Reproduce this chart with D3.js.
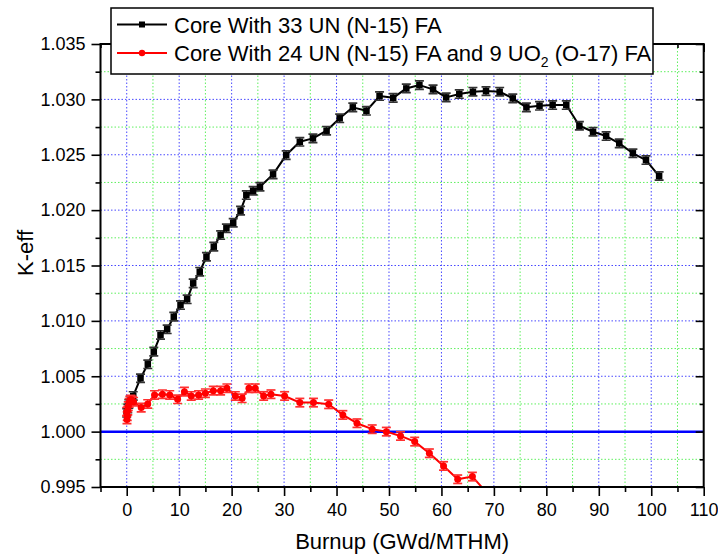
<!DOCTYPE html>
<html><head><meta charset="utf-8">
<script src="https://cdn.jsdelivr.net/npm/d3@7"></script>
<style>
body{margin:0;background:#fff}
svg{display:block}
text{font-family:"Liberation Sans",Arial,Helvetica,sans-serif;fill:#000}
</style>
</head><body>
<svg id="chart" width="718" height="554"></svg>
<script>
// ---------------- DATA ----------------
const seriesNames = ["Core With 33 UN (N-15) FA", "Core With 24 UN (N-15) FA and 9 UO", "2", " (O-17) FA"];
const burnupBlack = [0, 0.2, 0.4, 0.7, 1.24, 2.63, 4.02, 5.16, 6.44, 7.71, 8.97, 10.25, 11.52, 12.67, 13.92,
  15.2, 16.6, 17.9, 19.0, 20.3, 21.7, 22.8, 24.1, 25.4, 27.9, 30.4, 33.0, 35.5, 38.1, 40.6, 43.1, 45.7,
  48.2, 50.8, 53.3, 55.8, 58.4, 60.9, 63.4, 66.0, 68.5, 71.1, 73.6, 76.2, 78.7, 81.2, 83.8, 86.3, 88.9,
  91.4, 93.9, 96.5, 99.0, 101.5];
const keffBlack = [1.0017, 1.0021, 1.0025, 1.0028, 1.00322, 1.00482, 1.00608, 1.00722, 1.00873, 1.00924,
  1.01038, 1.01143, 1.01195, 1.01339, 1.01444, 1.01579, 1.01670, 1.01775, 1.01836, 1.01886, 1.01995,
  1.02136, 1.02175, 1.02211, 1.02323, 1.02497, 1.02617, 1.02648, 1.02717, 1.02829, 1.02928, 1.02897,
  1.03030, 1.03014, 1.03099, 1.03129, 1.03090, 1.03018, 1.03048, 1.03069, 1.03075, 1.03069, 1.03009,
  1.02928, 1.02942, 1.02949, 1.02949, 1.02762, 1.02708, 1.02669, 1.02603, 1.02513, 1.02452, 1.02308];
const burnupRed = [0, 0.05, 0.1, 0.2, 0.3, 0.45, 0.6, 0.8, 1.0, 1.3, 2.76, 4.0, 5.3, 6.8, 8.2, 9.7, 11.0,
  12.3, 13.7, 15.0, 16.5, 17.9, 19.1, 20.7, 22.0, 23.3, 24.5, 26.1, 27.5, 30.1, 33.0, 35.6, 38.5, 41.2,
  43.9, 46.8, 49.5, 52.2, 54.9, 57.7, 60.4, 63.1, 65.9, 68.6];
const keffRed = [1.0018, 1.0011, 1.0014, 1.0019, 1.0023, 1.0026, 1.0028, 1.0029, 1.0028, 1.0027, 1.00217,
  1.00250, 1.00331, 1.00338, 1.00331, 1.00292, 1.00361, 1.00322, 1.00331, 1.00347, 1.00370, 1.00370,
  1.00392, 1.00322, 1.00301, 1.00392, 1.00392, 1.00322, 1.00338, 1.00322, 1.00262, 1.00262, 1.00247,
  1.00151, 1.00076, 1.00022, 1.00000, 0.99961, 0.99910, 0.99805, 0.99690, 0.99570, 0.99594, 0.99450];
const errBlack = 0.00038;
const errRed = 0.00038;
const referenceK = 1.000;
const xMajorTicks = [0, 10, 20, 30, 40, 50, 60, 70, 80, 90, 100, 110];
const xMinorTicks = [-5, 5, 15, 25, 35, 45, 55, 65, 75, 85, 95, 105];
const yMajorTicks = [0.995, 1.000, 1.005, 1.010, 1.015, 1.020, 1.025, 1.030, 1.035];
const yMinorTicks = [0.9975, 1.0025, 1.0075, 1.0125, 1.0175, 1.0225, 1.0275, 1.0325];
const xTitle = "Burnup (GWd/MTHM)";
const yTitle = "K-eff";

// ---------------- CHART ----------------
const svg = d3.select("#chart");
const L = 100.5, R = 703.7, T = 44, B = 487;
const x = d3.scaleLinear().domain([-5, 110]).range([L, R]);
const y = d3.scaleLinear().domain([0.995, 1.035]).range([B, T]);

// grid
const grid = svg.append("g");
grid.selectAll(".gxm").data(xMinorTicks.filter(d => d > -5)).join("line")
  .attr("x1", d => x(d)).attr("x2", d => x(d)).attr("y1", T).attr("y2", B)
  .attr("stroke", "#5ef05e").attr("stroke-width", 1).attr("stroke-dasharray", "1.5,2");
grid.selectAll(".gym").data(yMinorTicks).join("line")
  .attr("x1", L).attr("x2", R).attr("y1", d => y(d)).attr("y2", d => y(d))
  .attr("stroke", "#5ef05e").attr("stroke-width", 1).attr("stroke-dasharray", "1.5,2");
grid.selectAll(".gxM").data(xMajorTicks.filter(d => d < 110)).join("line")
  .attr("x1", d => x(d)).attr("x2", d => x(d)).attr("y1", T).attr("y2", B)
  .attr("stroke", "#4848ff").attr("stroke-width", 1).attr("stroke-dasharray", "1.5,2");
grid.selectAll(".gyM").data(yMajorTicks.filter(d => d > 0.995 && d < 1.035)).join("line")
  .attr("x1", L).attr("x2", R).attr("y1", d => y(d)).attr("y2", d => y(d))
  .attr("stroke", "#4848ff").attr("stroke-width", 1).attr("stroke-dasharray", "1.5,2");

// reference line
svg.append("line").attr("x1", L).attr("x2", R).attr("y1", y(referenceK)).attr("y2", y(referenceK))
  .attr("stroke", "#0000ff").attr("stroke-width", 2.5);

// clip
svg.append("clipPath").attr("id", "clip").append("rect")
  .attr("x", L).attr("y", T).attr("width", R - L).attr("height", B - T);

const dataG = svg.append("g").attr("clip-path", "url(#clip)");
const line = d3.line().x(d => x(d[0])).y(d => y(d[1]));

function drawSeries(xs, ys, err, color, capColor, marker) {
  const pts = xs.map((d, i) => [d, ys[i]]);
  const g = dataG.append("g");
  g.append("path").datum(pts).attr("d", line).attr("fill", "none")
    .attr("stroke", color).attr("stroke-width", 2).attr("stroke-linejoin", "round");
  const eb = g.selectAll(".eb").data(pts).join("g");
  eb.append("line").attr("x1", d => x(d[0])).attr("x2", d => x(d[0]))
    .attr("y1", d => y(d[1] - err)).attr("y2", d => y(d[1] + err)).attr("stroke", capColor).attr("stroke-width", 1.5);
  eb.append("line").attr("x1", d => x(d[0]) - 4.5).attr("x2", d => x(d[0]) + 4.5)
    .attr("y1", d => y(d[1] + err)).attr("y2", d => y(d[1] + err)).attr("stroke", capColor).attr("stroke-width", 1.7);
  eb.append("line").attr("x1", d => x(d[0]) - 4.5).attr("x2", d => x(d[0]) + 4.5)
    .attr("y1", d => y(d[1] - err)).attr("y2", d => y(d[1] - err)).attr("stroke", capColor).attr("stroke-width", 1.7);
  if (marker === "square") {
    g.selectAll(".mk").data(pts).join("rect")
      .attr("x", d => x(d[0]) - 3.25).attr("y", d => y(d[1]) - 3.25).attr("width", 6.5).attr("height", 6.5).attr("fill", color);
  } else {
    g.selectAll(".mk").data(pts).join("circle")
      .attr("cx", d => x(d[0])).attr("cy", d => y(d[1])).attr("r", 3.5).attr("fill", color);
  }
}
drawSeries(burnupBlack, keffBlack, errBlack, "#000", "#333", "square");
drawSeries(burnupRed, keffRed, errRed, "#ff0000", "#ff3030", "circle");

// axes
const fs = "18px";
svg.append("g").attr("transform", `translate(${L},0)`)
  .call(d3.axisLeft(y).tickValues(yMajorTicks).tickSize(9).tickSizeOuter(0).tickPadding(6).tickFormat(d3.format(".3f")));
svg.append("g").attr("transform", `translate(${L},0)`)
  .call(d3.axisLeft(y).tickValues(yMinorTicks).tickSize(5).tickSizeOuter(0).tickFormat(""));
svg.append("g").attr("transform", `translate(0,${B})`)
  .call(d3.axisBottom(x).tickValues(xMajorTicks).tickSize(9).tickSizeOuter(0).tickPadding(7).tickFormat(d3.format("d")));
svg.append("g").attr("transform", `translate(0,${B})`)
  .call(d3.axisBottom(x).tickValues(xMinorTicks).tickSize(5).tickSizeOuter(0).tickFormat(""));
svg.append("g").attr("transform", `translate(${R},0)`)
  .call(d3.axisRight(y).tickValues(yMajorTicks).tickSize(-8).tickSizeOuter(0).tickFormat(""));
svg.append("g").attr("transform", `translate(${R},0)`)
  .call(d3.axisRight(y).tickValues(yMinorTicks).tickSize(-4).tickSizeOuter(0).tickFormat(""));
svg.append("g").attr("transform", `translate(0,${T})`)
  .call(d3.axisTop(x).tickValues(xMajorTicks).tickSize(-8).tickSizeOuter(0).tickFormat(""));
svg.append("g").attr("transform", `translate(0,${T})`)
  .call(d3.axisTop(x).tickValues(xMinorTicks).tickSize(-4).tickSizeOuter(0).tickFormat(""));
svg.selectAll(".domain").remove();
svg.selectAll(".tick line").attr("stroke", "#000").attr("stroke-width", 1.6);
svg.selectAll(".tick text").style("font-size", fs).style("font-family", '"Liberation Sans",Arial,sans-serif').attr("fill", "#000");

// frame
svg.append("rect").attr("x", L).attr("y", T).attr("width", R - L).attr("height", B - T)
  .attr("fill", "none").attr("stroke", "#000").attr("stroke-width", 2);

// titles
svg.append("text").attr("x", (L + R) / 2).attr("y", 549).attr("text-anchor", "middle")
  .style("font-size", "22px").text(xTitle);
svg.append("text").attr("transform", "translate(33,253) rotate(-90)").attr("text-anchor", "middle")
  .style("font-size", "22px").text(yTitle);

// legend
const lg = svg.append("g");
lg.append("rect").attr("x", 111).attr("y", 8).attr("width", 542).attr("height", 66)
  .attr("fill", "#fff").attr("stroke", "#000").attr("stroke-width", 1.5);
const rows = [{cy: 24.5, color: "#000", marker: "square"}, {cy: 53, color: "#ff0000", marker: "circle"}];
rows.forEach(r => {
  lg.append("line").attr("x1", 117).attr("x2", 167).attr("y1", r.cy).attr("y2", r.cy)
    .attr("stroke", r.color).attr("stroke-width", 2);
  if (r.marker === "square") lg.append("rect").attr("x", 139).attr("y", r.cy - 3).attr("width", 6).attr("height", 6).attr("fill", r.color);
  else lg.append("circle").attr("cx", 142).attr("cy", r.cy).attr("r", 3.2).attr("fill", r.color);
});
lg.append("text").attr("x", 174).attr("y", 33).style("font-size", "22px").text(seriesNames[0]);
const t2 = lg.append("text").attr("x", 174).attr("y", 61).style("font-size", "22px");
t2.append("tspan").text(seriesNames[1]);
t2.append("tspan").attr("dy", 6).style("font-size", "14px").text(seriesNames[2]);
t2.append("tspan").attr("dy", -6).text(seriesNames[3]);
</script>
</body></html>
